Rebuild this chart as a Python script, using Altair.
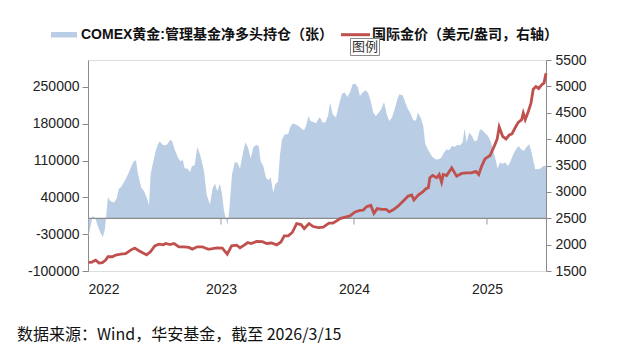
import altair as alt
import pandas as pd

# COMEX gold managed-money net long (contracts), decimal-year positions
area_t = [2022.004, 2022.015, 2022.035, 2022.055, 2022.070, 2022.090, 2022.111, 2022.126, 2022.135, 2022.150,
          2022.171, 2022.195, 2022.216, 2022.231, 2022.250, 2022.276, 2022.301, 2022.326, 2022.346, 2022.361,
          2022.376, 2022.401, 2022.421, 2022.441, 2022.459, 2022.471, 2022.486, 2022.506, 2022.526, 2022.541,
          2022.562, 2022.586, 2022.596, 2022.617, 2022.632, 2022.652, 2022.677, 2022.697, 2022.712, 2022.727,
          2022.747, 2022.767, 2022.782, 2022.802, 2022.822, 2022.842, 2022.862, 2022.872, 2022.892, 2022.917,
          2022.938, 2022.955, 2022.972, 2022.992, 2023.008, 2023.023, 2023.038, 2023.050, 2023.062, 2023.083,
          2023.103, 2023.123, 2023.143, 2023.163, 2023.183, 2023.203, 2023.223, 2023.243, 2023.263, 2023.283,
          2023.298, 2023.318, 2023.338, 2023.359, 2023.374, 2023.393, 2023.408, 2023.429, 2023.444, 2023.459,
          2023.479, 2023.504, 2023.524, 2023.544, 2023.564, 2023.584, 2023.604, 2023.624, 2023.639, 2023.659,
          2023.674, 2023.694, 2023.714, 2023.735, 2023.744, 2023.765, 2023.784, 2023.805, 2023.820, 2023.840,
          2023.865, 2023.885, 2023.910, 2023.930, 2023.950, 2023.970, 2023.990, 2024.010, 2024.030, 2024.045,
          2024.065, 2024.085, 2024.105, 2024.126, 2024.145, 2024.165, 2024.186, 2024.205, 2024.226, 2024.246,
          2024.265, 2024.286, 2024.306, 2024.326, 2024.341, 2024.366, 2024.386, 2024.406, 2024.426, 2024.446,
          2024.466, 2024.481, 2024.502, 2024.521, 2024.536, 2024.556, 2024.577, 2024.596, 2024.617, 2024.637,
          2024.656, 2024.677, 2024.697, 2024.717, 2024.737, 2024.757, 2024.777, 2024.797, 2024.817, 2024.832,
          2024.847, 2024.867, 2024.887, 2024.908, 2024.927, 2024.947, 2024.968, 2024.987, 2025.008, 2025.028,
          2025.047, 2025.062, 2025.080, 2025.098, 2025.118, 2025.138, 2025.158, 2025.178, 2025.198, 2025.218,
          2025.238, 2025.258, 2025.278, 2025.298, 2025.318, 2025.333, 2025.348, 2025.363, 2025.383, 2025.404,
          2025.423, 2025.444]
area_v = [-35000, -20000, 5000, 0, -12000, -25000, -36000, -22000, 0, 40000,
          32000, 30000, 38000, 56000, 60000, 71000, 84000, 99000, 109000, 110000,
          84000, 58000, 52000, 40000, 25000, 84000, 102000, 125000, 142000, 146000,
          139500, 138800, 141000, 149000, 147000, 131000, 115000, 108000, 112000, 95000,
          95000, 88000, 99000, 101000, 135600, 121700, 101000, 90000, 45600, 26600,
          58400, 66000, 52000, 66000, 45600, 13900, -1900, -12700, 13900, 83700,
          106000, 106000, 95000, 121700, 144000, 134500, 114000, 134500, 139500, 138000,
          109000, 99500, 77400, 72300, 78000, 48900, 64700, 69800, 121700, 150000,
          160000, 160000, 175600, 180700, 178000, 175600, 171000, 167400, 175600, 194600,
          185000, 183000, 181000, 190000, 191500, 182000, 182000, 194600, 220000, 197800,
          191500, 213500, 237000, 239000, 230700, 239000, 254900, 256000, 248600, 232600,
          239000, 243500, 239000, 223100, 201000, 194600, 201000, 207300, 221200, 197800,
          185000, 191500, 207300, 226300, 235800, 234000, 220000, 207300, 199000, 186400,
          186000, 201000, 191000, 175600, 142000, 131000, 121700, 115400, 112000, 112200,
          115000, 125000, 131000, 130000, 137500, 136000, 139500, 138800, 144000, 171000,
          144000, 163000, 156500, 146000, 149000, 169300, 167000, 161700, 156500, 146000,
          128000, 115400, 95000, 106000, 104000, 106000, 99500, 109000, 121700, 131000,
          137500, 131000, 128000, 135600, 140700, 128000, 110300, 93200, 93200, 95000,
          99700, 100000]

# International gold price (USD/oz, right axis)
line_t = [2022.005, 2022.030, 2022.058, 2022.083, 2022.108, 2022.133, 2022.150, 2022.183, 2022.208, 2022.246,
          2022.283, 2022.321, 2022.351, 2022.383, 2022.421, 2022.441, 2022.471, 2022.502, 2022.534, 2022.566,
          2022.584, 2022.617, 2022.647, 2022.684, 2022.722, 2022.759, 2022.784, 2022.822, 2022.859, 2022.902,
          2022.917, 2022.968, 2023.010, 2023.047, 2023.080, 2023.118, 2023.143, 2023.175, 2023.201, 2023.226,
          2023.268, 2023.311, 2023.344, 2023.381, 2023.419, 2023.451, 2023.476, 2023.506, 2023.536, 2023.569,
          2023.602, 2023.626, 2023.662, 2023.694, 2023.732, 2023.769, 2023.812, 2023.842, 2023.870, 2023.895,
          2023.920, 2023.970, 2024.008, 2024.045, 2024.070, 2024.095, 2024.126, 2024.150, 2024.175, 2024.208,
          2024.241, 2024.265, 2024.295, 2024.333, 2024.371, 2024.408, 2024.434, 2024.451, 2024.483, 2024.517,
          2024.541, 2024.559, 2024.571, 2024.592, 2024.622, 2024.641, 2024.659, 2024.671, 2024.697, 2024.735,
          2024.772, 2024.810, 2024.847, 2024.882, 2024.917, 2024.938, 2024.960, 2024.985, 2025.023, 2025.060,
          2025.077, 2025.092, 2025.118, 2025.143, 2025.168, 2025.188, 2025.211, 2025.235, 2025.261, 2025.273,
          2025.288, 2025.311, 2025.331, 2025.348, 2025.368, 2025.389, 2025.411, 2025.429, 2025.444]
line_p = [1664, 1670, 1707, 1651, 1660, 1707, 1770, 1770, 1802, 1820,
          1830, 1896, 1934, 1883, 1834, 1808, 1870, 1977, 2009, 1996,
          2022, 2000, 2022, 1959, 1959, 1947, 1915, 1959, 1959, 1915,
          1915, 1940, 1934, 1820, 1977, 1990, 1940, 1990, 2040, 2020,
          2060, 2055, 2022, 2030, 1996, 2050, 2166, 2166, 2230, 2400,
          2380, 2305, 2400, 2343, 2324, 2330, 2406, 2410, 2450, 2494,
          2512, 2544, 2620, 2650, 2655, 2720, 2745, 2594, 2683, 2670,
          2670, 2620, 2660, 2733, 2827, 2921, 2940, 2846, 2940, 3000,
          3060, 3080, 3268, 3311, 3268, 3330, 3185, 3330, 3310, 3456,
          3298, 3350, 3360, 3360, 3390, 3330, 3487, 3626, 3689, 3896,
          4003, 4230, 4053, 4003, 4080, 4100, 4211, 4318, 4370, 4495,
          4370, 4525, 4683, 4947, 4997, 4960, 5028, 5066, 5249]

year_ticks = [2022, 2023, 2024, 2025]
tick_marks = [2023, 2024, 2025]
left_ticks = [-100000, -30000, 40000, 110000, 180000, 250000]
right_ticks = [1500, 2000, 2500, 3000, 3500, 4000, 4500, 5000, 5500]

area_name = "COMEX黄金:管理基金净多头持仓（张）"
line_name = "国际金价（美元/盎司，右轴）"
source_note = "数据来源：Wind，华安基金，截至 2026/3/15"

area_df = pd.DataFrame({"t": area_t, "v": area_v})
line_df = pd.DataFrame({"t": line_t, "p": line_p})
tick_df = pd.DataFrame({"t": tick_marks})
one = pd.DataFrame({"k": [0]})

AXIS_GRAY = "#8a8a8a"
BLUE = "#b9cde5"
RED = "#c0504d"
FONT = "Liberation Sans, Noto Sans CJK SC"

xscale = alt.Scale(domain=[2022, 2025.444], nice=False, zero=False)
xaxis = alt.Axis(values=year_ticks, format="d", title=None, domain=False, ticks=False,
                 grid=False, labelPadding=11, labelFontSize=14, labelFont=FONT,
                 labelColor="#222222")
X = alt.X("t:Q", scale=xscale, axis=xaxis)

lscale = alt.Scale(domain=[-100000, 301000], nice=False, zero=False)
laxis = alt.Axis(values=left_ticks, labelExpr="'' + datum.value", title=None, grid=False,
                 domainColor=AXIS_GRAY, tickColor=AXIS_GRAY, tickSize=6, labelPadding=3,
                 labelFontSize=14, labelFont=FONT, labelColor="#222222", orient="left")

rscale = alt.Scale(domain=[1500, 5500], nice=False, zero=False)
raxis = alt.Axis(values=right_ticks, labelExpr="'' + datum.value", title=None, grid=False,
                 domainColor=AXIS_GRAY, tickColor=AXIS_GRAY, tickSize=5, labelPadding=4,
                 labelFontSize=14, labelFont=FONT, labelColor="#222222", orient="right")

area = alt.Chart(area_df).mark_area(color=BLUE, opacity=1).encode(
    x=X, y=alt.Y("v:Q", scale=lscale, axis=laxis), y2=alt.datum(0)
)
zero_rule = alt.Chart(one).mark_rule(color=AXIS_GRAY, strokeWidth=1.2).encode(
    y=alt.datum(0)
)
ticks = alt.Chart(tick_df).mark_tick(orient="vertical", size=6, thickness=1.2, yOffset=3,
                                     color=AXIS_GRAY).encode(x=X, y=alt.datum(0))
left = alt.layer(area, zero_rule, ticks)

line = alt.Chart(line_df).mark_line(color=RED, strokeWidth=2.8).encode(
    x=X, y=alt.Y("p:Q", scale=rscale, axis=raxis)
)

# legend (manual)
leg_rect = alt.Chart(one).mark_rect(color=BLUE).encode(
    x=alt.value(-37), x2=alt.value(-11), y=alt.value(-28), y2=alt.value(-22.5)
)
leg_text1 = alt.Chart(one).mark_text(text=area_name, align="left", baseline="middle",
                                     fontSize=14, fontWeight="bold", font=FONT,
                                     color="#111111").encode(x=alt.value(-7), y=alt.value(-25))
leg_line = alt.Chart(one).mark_rule(color=RED, strokeWidth=3).encode(
    x=alt.value(253), x2=alt.value(282), y=alt.value(-25.3)
)
leg_text2 = alt.Chart(one).mark_text(text=line_name, align="left", baseline="middle",
                                     fontSize=14, fontWeight="bold", font=FONT,
                                     color="#111111").encode(x=alt.value(284), y=alt.value(-25))
tip_box = alt.Chart(one).mark_rect(fill="white", stroke="#8a8a8a", strokeWidth=1).encode(
    x=alt.value(262.5), x2=alt.value(291.5), y=alt.value(-21.5), y2=alt.value(-4.5)
)
tip_text = alt.Chart(one).mark_text(text="图例", align="center", baseline="middle",
                                    fontSize=13, font="Noto Sans CJK SC",
                                    color="#333333").encode(x=alt.value(277), y=alt.value(-13))
footer = alt.Chart(one).mark_text(text=source_note, align="left", baseline="middle",
                                  fontSize=16, font="Noto Sans CJK SC",
                                  color="#111111").encode(x=alt.value(-71), y=alt.value(275))

chart = alt.layer(
    left, line, leg_rect, leg_text1, leg_line, leg_text2, tip_box, tip_text, footer
).resolve_scale(y="independent").properties(
    width=458, height=211,
    autosize=alt.AutoSizeParams(type="none"),
    padding={"left": 80, "top": 52, "right": 71, "bottom": 83},
).configure_view(strokeWidth=0).configure(background="white")

chart.save("out.html", embed_options={"renderer": "svg", "actions": False})
